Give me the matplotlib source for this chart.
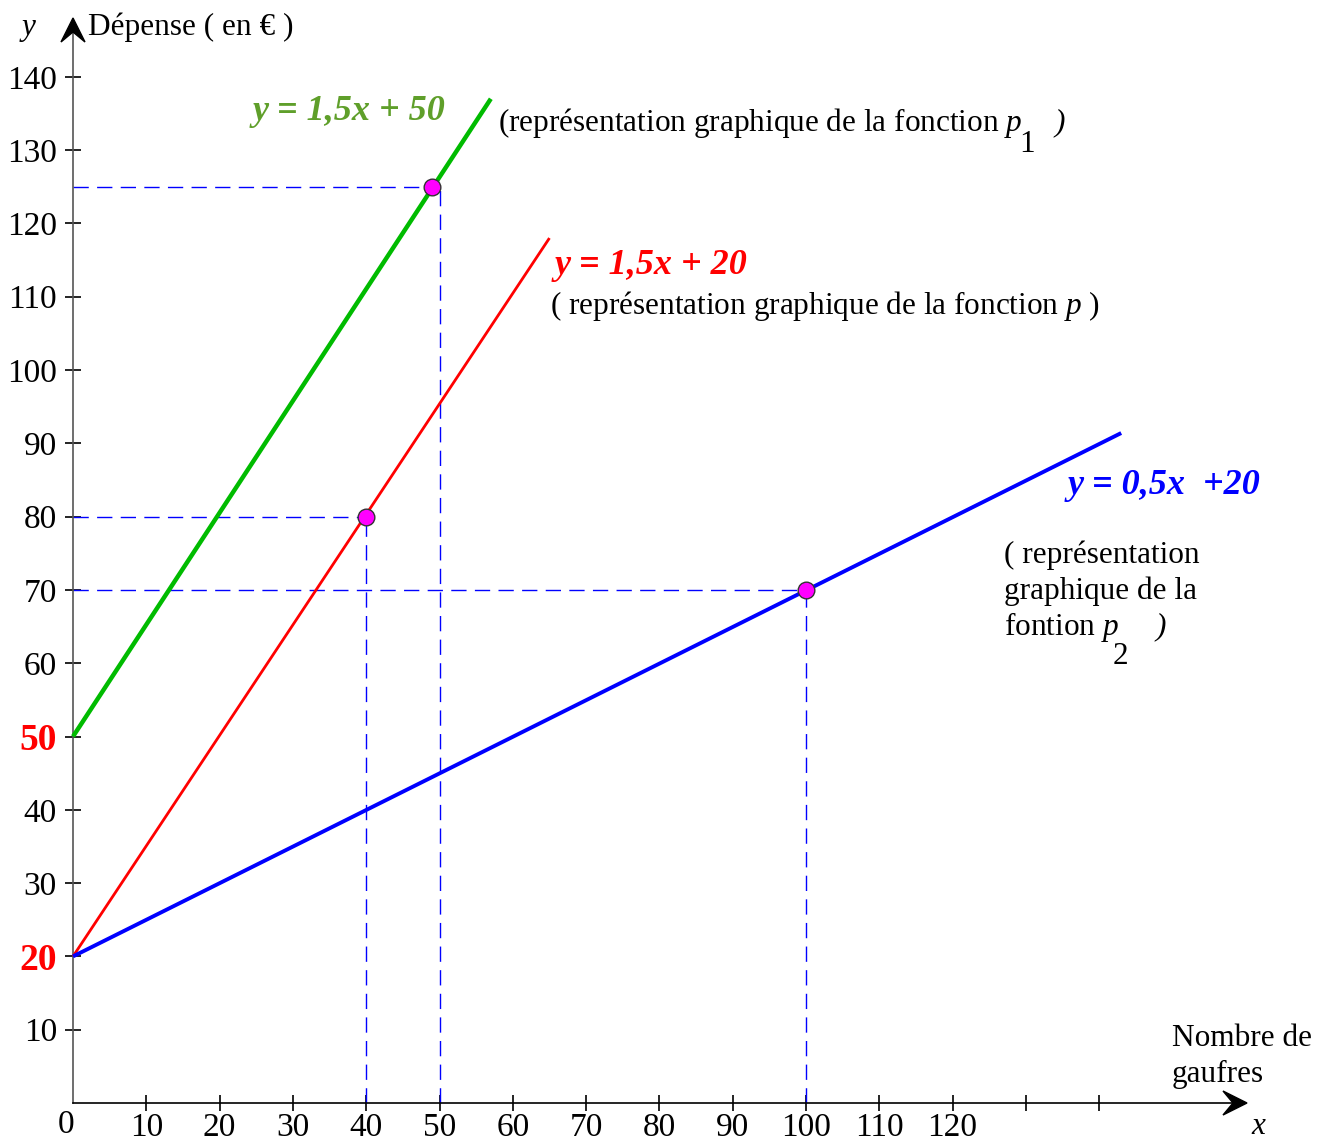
import matplotlib.pyplot as plt
from matplotlib.patches import Polygon

plt.rcParams["font.family"] = "Liberation Serif"
plt.rcParams["mathtext.fontset"] = "custom"
plt.rcParams["mathtext.rm"] = "Liberation Serif"
plt.rcParams["mathtext.it"] = "Liberation Serif:italic"

# === data ===
line_p1_x = [0, 57]
line_p1_y = [50, 137]
line_p_x = [0, 65]
line_p_y = [20, 118]
line_p2_x = [0, 143]
line_p2_y = [20, 91.4]

points_x = [49, 40, 100]
points_y = [125, 80, 70]
# dashed guides: (x of vertical line, y of horizontal line, x end of horizontal)
guide_vx = [50, 40, 100]
guide_vy = [125, 80, 70]
guide_hx = [49, 40, 100]

xticks = [0, 10, 20, 30, 40, 50, 60, 70, 80, 90, 100, 110, 120, 130, 140]
xtick_labels = ["", "10", "20", "30", "40", "50", "60", "70", "80", "90",
                "100", "110", "120", "", ""]
yticks = [10, 20, 30, 40, 50, 60, 70, 80, 90, 100, 110, 120, 130, 140]

# pixel scale of the original drawing
S = 7.33
X0, Y0 = 73, 1103
FS = 22.5


def P(px, py):
    return (px - X0) / S, (Y0 - py) / S


fig = plt.figure(figsize=(13.21, 11.44), dpi=100)
ax = fig.add_axes([0, 0, 1, 1])
ax.set_xlim(-X0 / S, (1321 - X0) / S)
ax.set_ylim(-(1144 - Y0) / S, Y0 / S)

for s in ["top", "right"]:
    ax.spines[s].set_visible(False)
ax.spines["left"].set_position(("data", 0))
ax.spines["bottom"].set_position(("data", 0))
ax.spines["left"].set_bounds(0, P(0, 30)[1])
ax.spines["bottom"].set_bounds(0, P(1235, 0)[0])
ax.spines["left"].set_color("#555555")
ax.spines["left"].set_linewidth(1.2)
ax.spines["bottom"].set_linewidth(1.2)

ax.set_xticks(xticks, xtick_labels)
ax.set_yticks(yticks, [str(v) for v in yticks])
ax.tick_params(direction="inout", length=11, width=1.2, labelsize=24)
ax.tick_params(axis="x", pad=1)
ax.tick_params(axis="y", pad=6)
ax.xaxis.get_major_ticks()[0].tick1line.set_visible(False)
for lab in ax.get_yticklabels():
    if lab.get_text() in ("20", "50"):
        lab.set_color("red")
        lab.set_fontweight("bold")
        lab.set_fontsize(27)
ax.text(*P(66, 1125), "0", fontsize=24, ha="center", va="center")

# arrow heads
def head(tip, direction):
    L, W, N = 24 / S, 12 / S, 10 / S
    x, y = tip
    if direction == "up":
        pts = [(x, y), (x - W, y - L), (x, y - L + N), (x + W, y - L)]
    else:
        pts = [(x, y), (x - L, y + W), (x - L + N, y), (x - L, y - W)]
    ax.add_patch(Polygon(pts, closed=True, color="black", zorder=5))


head(P(73, 18), "up")
head(P(1247, 1103), "right")

# dashed guides
for vx, vy, hx in zip(guide_vx, guide_vy, guide_hx):
    ax.plot([0, hx], [vy, vy], color="blue", lw=1, dashes=(11, 6), zorder=2)
    ax.plot([vx, vx], [0, vy], color="blue", lw=1, dashes=(11, 6), zorder=2)

ax.plot(line_p1_x, line_p1_y, color="#00bb00", lw=3.2, solid_capstyle="butt", zorder=3)
ax.plot(line_p_x, line_p_y, color="#ff0000", lw=2.0, solid_capstyle="butt", zorder=3)
ax.plot(line_p2_x, line_p2_y, color="#0000ff", lw=2.8, solid_capstyle="butt", zorder=3)

ax.plot(points_x, points_y, "o", ms=12, mfc="#ff00ff", mec="#333333", mew=1, zorder=4)

# labels
ax.text(*P(22, 27), "y", fontsize=FS, style="italic", va="center")
ax.text(*P(88, 27), "Dépense ( en € )", fontsize=FS, va="center")
ax.text(*P(1251, 1126), "x", fontsize=FS, style="italic", va="center")
ax.text(*P(1172, 1038), "Nombre de", fontsize=FS, va="center")
ax.text(*P(1172, 1074), "gaufres", fontsize=FS, va="center")

eq = dict(fontsize=26, fontweight="bold", style="italic", va="center")
ax.text(*P(253, 112), "y = 1,5x + 50", color="#5f9f2a", **eq)
ax.text(*P(555, 266), "y = 1,5x + 20", color="red", **eq)
ax.text(*P(1068, 486), "y = 0,5x  +20", color="blue", **eq)

ax.text(*P(498, 123), "(représentation graphique de la fonction $p$", fontsize=FS, va="center")
ax.text(*P(1019, 144), "1", fontsize=FS, va="center")
ax.text(*P(1054, 123), ")", fontsize=FS, style="italic", va="center")

ax.text(*P(550, 306), "( représentation graphique de la fonction $p$ )", fontsize=FS, va="center")

ax.text(*P(1004, 555), "( représentation", fontsize=FS, va="center")
ax.text(*P(1004, 591), "graphique de la", fontsize=FS, va="center")
ax.text(*P(1004, 627), "fontion $p$", fontsize=FS, va="center")
ax.text(*P(1113, 657), "2", fontsize=FS, va="center")
ax.text(*P(1155, 627), ")", fontsize=FS, style="italic", va="center")

fig.savefig("out.png", dpi=100, facecolor="white")
